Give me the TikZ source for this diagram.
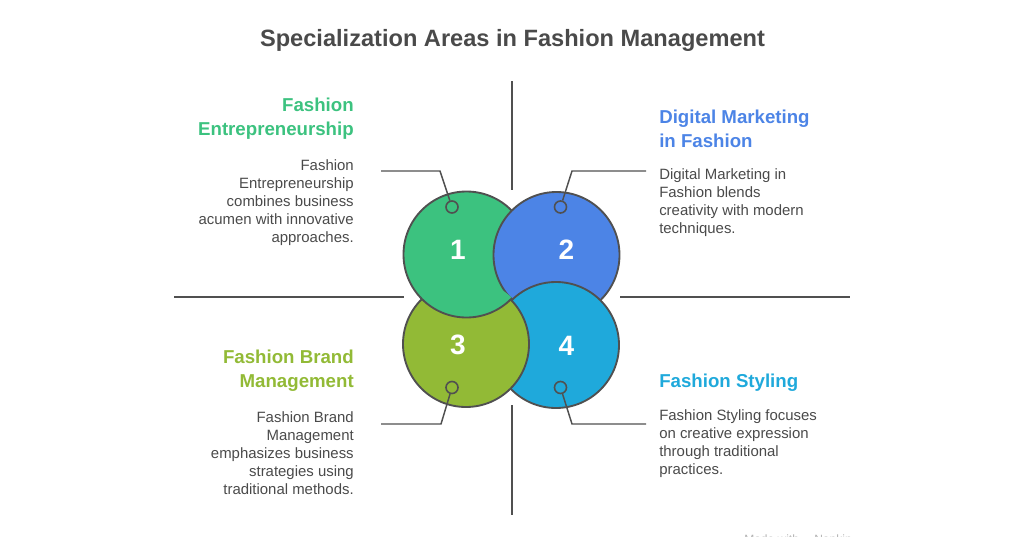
\documentclass[tikz,border=0pt]{standalone}
\usepackage{fontspec}
\setmainfont{Liberation Sans}
\definecolor{inkgray}{HTML}{4A4A4A}
\definecolor{linegray}{HTML}{505050}
\definecolor{greenarea}{HTML}{3CC27F}
\definecolor{bluearea}{HTML}{4C84E6}
\definecolor{olivearea}{HTML}{92BA36}
\definecolor{cyanarea}{HTML}{1FA9DB}
\tikzset{
  bubble/.style={circle, draw=linegray, line width=1.4pt, minimum size=94.5pt, inner sep=0pt},
  dot/.style={circle, draw=linegray, line width=1.2pt, minimum size=9pt, inner sep=0pt},
  rule/.style={draw=linegray, line width=1.1pt},
  digit/.style={text=white, font=\bfseries\fontsize{21}{21}\selectfont},
  heading/.style={font=\bfseries\fontsize{14}{18}\selectfont},
  body/.style={text=inkgray, font=\fontsize{11.2}{13.5}\selectfont}
}
\begin{document}
\begin{tikzpicture}[x=0.75pt, y=-0.75pt]
    \useasboundingbox (0, 0) rectangle (1024, 536);
    \node[font=\bfseries\fontsize{17.7}{22}\selectfont, text=inkgray] (title) at (512.5, 40) {Specialization Areas in Fashion Management};
    % quadrant rules
    \coordinate (topa) at (512, 81);
    \coordinate (topb) at (512, 190);
    \coordinate (bota) at (512, 405);
    \coordinate (botb) at (512, 515);
    \coordinate (lefta) at (174, 297);
    \coordinate (leftb) at (404, 297);
    \coordinate (righta) at (620, 297);
    \coordinate (rightb) at (850, 297);
    \draw[rule] (topa) -- (topb);
    \draw[rule] (bota) -- (botb);
    \draw[rule] (lefta) -- (leftb);
    \draw[rule] (righta) -- (rightb);
    % the four circles overlap in a cycle
    \node[bubble, fill=greenarea] (one) at (466.5, 254.5) {};
    \node[bubble, fill=bluearea] (two) at (556.5, 255) {};
    \node[bubble, fill=cyanarea] (four) at (556, 345) {};
    \node[bubble, fill=olivearea] (three) at (466, 344) {};
    \begin{scope}
      \clip (466, 344) circle (65);
      \node[bubble, fill=greenarea] (oneagain) at (466.5, 254.5) {};
    \end{scope}
    \node[dot, fill=greenarea] (dotone) at (452, 207) {};
    \node[dot, fill=bluearea] (dottwo) at (560.5, 207) {};
    \node[dot, fill=olivearea] (dotthree) at (452, 387.5) {};
    \node[dot, fill=cyanarea] (dotfour) at (560.5, 387.5) {};
    \node[digit] (numone) at (458, 250) {1};
    \node[digit] (numtwo) at (566.5, 250) {2};
    \node[digit] (numthree) at (458, 345) {3};
    \node[digit] (numfour) at (566.5, 346) {4};
    % leaders
    \coordinate (endone) at (381, 171);
    \coordinate (kneeone) at (440, 171);
    \coordinate (endtwo) at (646, 171);
    \coordinate (kneetwo) at (572, 171);
    \coordinate (endthree) at (381, 424);
    \coordinate (kneethree) at (441, 424);
    \coordinate (endfour) at (646, 424);
    \coordinate (kneefour) at (572, 424);
    \draw[rule] (endone) -- (kneeone) -- (dotone);
    \draw[rule] (endtwo) -- (kneetwo) -- (dottwo);
    \draw[rule] (endthree) -- (kneethree) -- (dotthree);
    \draw[rule] (endfour) -- (kneefour) -- (dotfour);
    % text blocks
    \node[heading, text=greenarea, align=right, anchor=north east, inner sep=0pt] (headone) at (354, 98) {Fashion\\Entrepreneurship};
    \node[body, align=right, anchor=north east, inner sep=0pt] (textone) at (354, 159) {Fashion\\Entrepreneurship\\combines business\\acumen with innovative\\approaches.};
    \node[heading, text=bluearea, align=left, anchor=north west, inner sep=0pt] (headtwo) at (659, 110) {Digital Marketing\\in Fashion};
    \node[body, align=left, anchor=north west, inner sep=0pt] (texttwo) at (659, 168) {Digital Marketing in\\Fashion blends\\creativity with modern\\techniques.};
    \node[heading, text=olivearea, align=right, anchor=north east, inner sep=0pt] (headthree) at (354, 350) {Fashion Brand\\Management};
    \node[body, align=right, anchor=north east, inner sep=0pt] (textthree) at (354, 411) {Fashion Brand\\Management\\emphasizes business\\strategies using\\traditional methods.};
    \node[heading, text=cyanarea, align=left, anchor=north west, inner sep=0pt] (headfour) at (659, 374) {Fashion Styling};
    \node[body, align=left, anchor=north west, inner sep=0pt] (textfour) at (659, 409) {Fashion Styling focuses\\on creative expression\\through traditional\\practices.};
    \node[text=gray!60, font=\fontsize{9}{9}\selectfont, anchor=north] (madewith) at (798, 530) {Made with \quad Napkin};
\end{tikzpicture}
\end{document}
